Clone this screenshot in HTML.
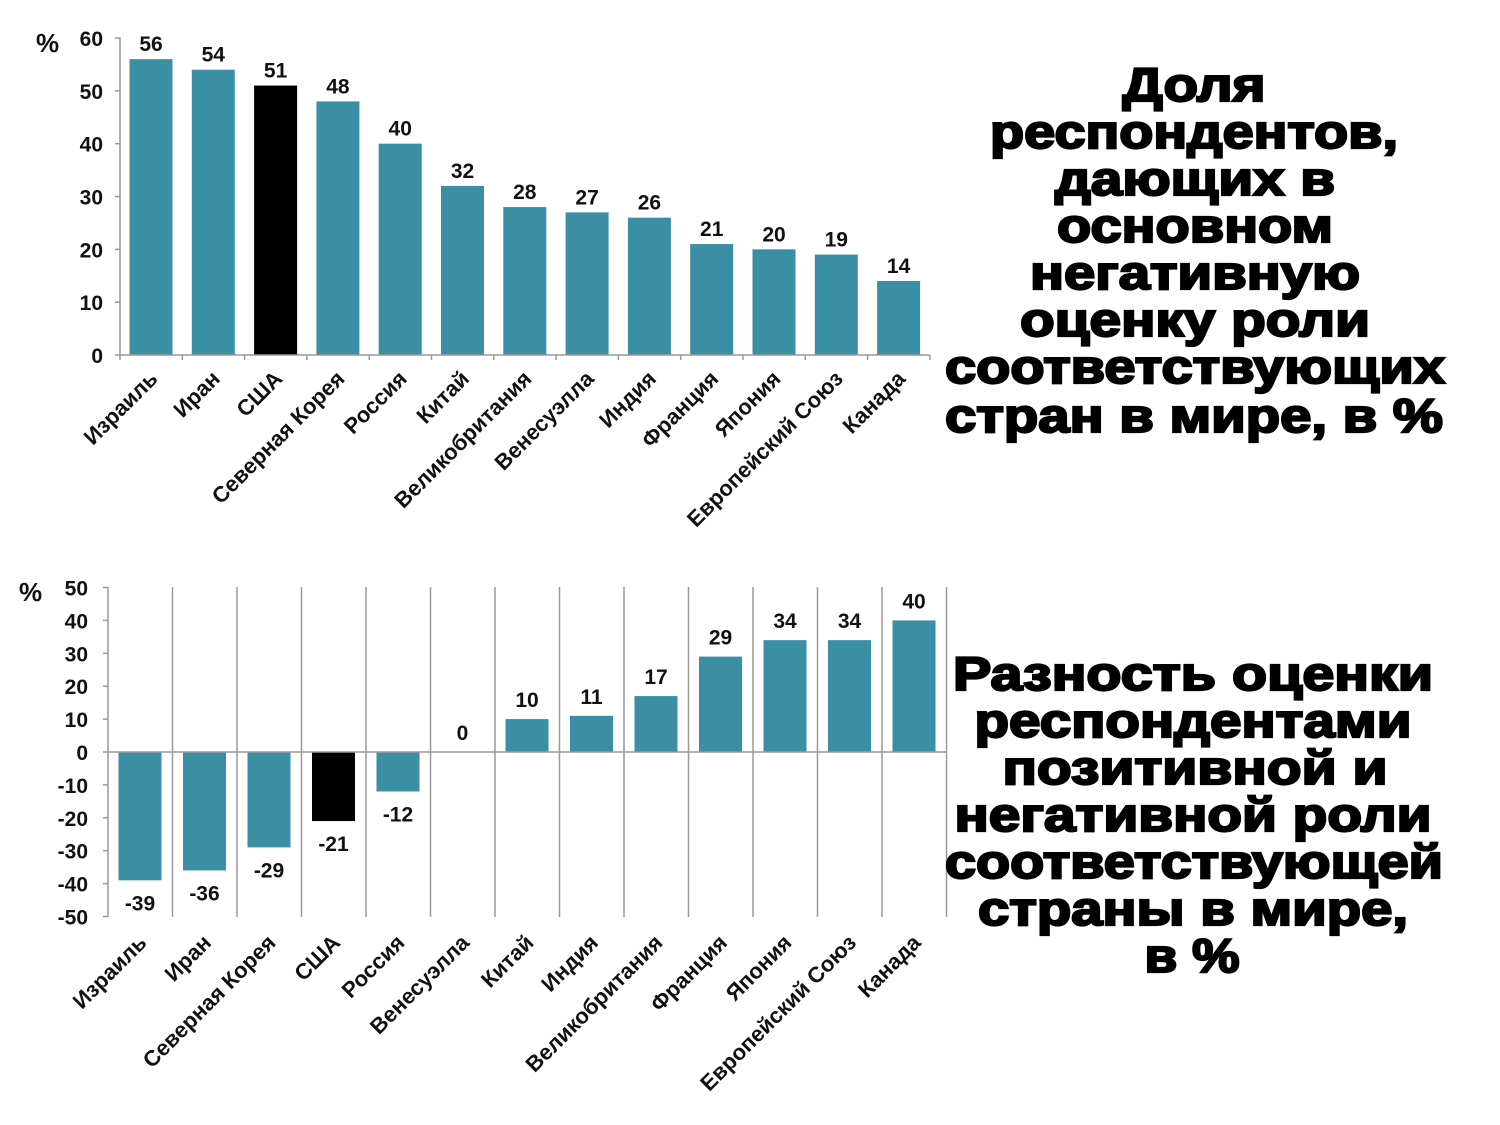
<!DOCTYPE html>
<html><head><meta charset="utf-8"><style>
html,body{margin:0;padding:0;background:#fff;}
svg{display:block;}
.t{font-family:"Liberation Sans",Arial,sans-serif;font-weight:bold;fill:#111;}
.h{font-family:"Liberation Sans",Arial,sans-serif;font-weight:bold;fill:#000;stroke:#000;stroke-width:2.2;font-size:47px;}
</style></head><body>
<svg width="1500" height="1125" viewBox="0 0 1500 1125" xmlns="http://www.w3.org/2000/svg">
<g id="top"></g>
<g id="bot"></g>
<g text-anchor="middle">
<text class="h" x="1194" y="101" textLength="143" lengthAdjust="spacingAndGlyphs">Доля</text>
<text class="h" x="1194" y="148" textLength="408" lengthAdjust="spacingAndGlyphs">респондентов,</text>
<text class="h" x="1195" y="195" textLength="280" lengthAdjust="spacingAndGlyphs">дающих в</text>
<text class="h" x="1195" y="242" textLength="276" lengthAdjust="spacingAndGlyphs">основном</text>
<text class="h" x="1195" y="289" textLength="330" lengthAdjust="spacingAndGlyphs">негативную</text>
<text class="h" x="1195" y="336" textLength="350" lengthAdjust="spacingAndGlyphs">оценку роли</text>
<text class="h" x="1195" y="383" textLength="500" lengthAdjust="spacingAndGlyphs">соответствующих</text>
<text class="h" x="1194" y="432" textLength="498" lengthAdjust="spacingAndGlyphs">стран в мире, в %</text>
<text class="h" x="1193" y="690" textLength="480" lengthAdjust="spacingAndGlyphs">Разность оценки</text>
<text class="h" x="1193" y="737" textLength="437" lengthAdjust="spacingAndGlyphs">респондентами</text>
<text class="h" x="1195" y="784" textLength="385" lengthAdjust="spacingAndGlyphs">позитивной и</text>
<text class="h" x="1193" y="831" textLength="477" lengthAdjust="spacingAndGlyphs">негативной роли</text>
<text class="h" x="1194" y="878" textLength="498" lengthAdjust="spacingAndGlyphs">соответствующей</text>
<text class="h" x="1193" y="925" textLength="430" lengthAdjust="spacingAndGlyphs">страны в мире,</text>
<text class="h" x="1192" y="972" textLength="95" lengthAdjust="spacingAndGlyphs">в %</text>
</g>
</svg>
<script>
var NS="http://www.w3.org/2000/svg";
function el(p,n,a,txt){var e=document.createElementNS(NS,n);for(var k in a)e.setAttribute(k,a[k]);if(txt!==undefined)e.textContent=txt;p.appendChild(e);return e;}
var teal="#3a8fa5";
var g=document.getElementById("top");
var x0=120,y0=355,sc=317/60,sp=62.3;
var names=["Израиль","Иран","США","Северная Корея","Россия","Китай","Великобритания","Венесуэлла","Индия","Франция","Япония","Европейский Союз","Канада"];
var vals=[56,54,51,48,40,32,28,27,26,21,20,19,14];
el(g,"line",{x1:x0,y1:37,x2:x0,y2:y0,stroke:"#999","stroke-width":1.5});
for(var v=0;v<=60;v+=10){var y=y0-v*sc;el(g,"line",{x1:x0-5,y1:y,x2:x0,y2:y,stroke:"#999","stroke-width":1.5});
el(g,"text",{class:"t",x:x0-17,y:y+8,"text-anchor":"end","font-size":"21"},v);}
el(g,"text",{class:"t",x:36,y:52,"font-size":"26"},"%");
for(var i=0;i<13;i++){var cx=x0+31+sp*i,h=vals[i]*sc;
el(g,"rect",{x:cx-21.5,y:y0-h,width:43,height:h,fill:i==2?"#000":teal});
el(g,"text",{class:"t",x:cx,y:y0-h-8,"text-anchor":"middle","font-size":"21"},vals[i]);
el(g,"text",{class:"t","font-size":"22","text-anchor":"end",transform:"translate("+(cx+8)+",380) rotate(-45)"},names[i]);}
el(g,"line",{x1:x0,y1:y0,x2:930,y2:y0,stroke:"#999","stroke-width":1.5});
for(var i=0;i<=13;i++){var tx=x0+sp*i;el(g,"line",{x1:tx,y1:y0,x2:tx,y2:y0+5,stroke:"#999","stroke-width":1.5});}
var b=document.getElementById("bot");
var bx=108,bz=752,bs=3.29,bp=64.5;
var n2=["Израиль","Иран","Северная Корея","США","Россия","Венесуэлла","Китай","Индия","Великобритания","Франция","Япония","Европейский Союз","Канада"];
var v2=[-39,-36,-29,-21,-12,0,10,11,17,29,34,34,40];
el(b,"line",{x1:bx,y1:587,x2:bx,y2:917,stroke:"#999","stroke-width":1.5});
for(var i=1;i<=13;i++){var gx=bx+bp*i;el(b,"line",{x1:gx,y1:587,x2:gx,y2:917,stroke:"#999","stroke-width":1.5});}
for(var v=-50;v<=50;v+=10){var y=bz-v*bs;el(b,"line",{x1:bx-5,y1:y,x2:bx,y2:y,stroke:"#999","stroke-width":1.5});
el(b,"text",{class:"t",x:bx-20,y:y+8,"text-anchor":"end","font-size":"21"},v);}
el(b,"text",{class:"t",x:19,y:601,"font-size":"26"},"%");
for(var i=0;i<13;i++){var cx=bx+32+bp*i,v=v2[i],h=Math.abs(v)*bs;
if(v>0)el(b,"rect",{x:cx-21.5,y:bz-h,width:43,height:h,fill:teal});
else if(v<0)el(b,"rect",{x:cx-21.5,y:bz,width:43,height:h,fill:i==3?"#000":teal});
var ly=v>=0?bz-h-12:bz+h+30;
el(b,"text",{class:"t",x:cx,y:ly,"text-anchor":"middle","font-size":"21"},v);
el(b,"text",{class:"t","font-size":"22","text-anchor":"end",transform:"translate("+(cx+8)+",944) rotate(-45)"},n2[i]);}
el(b,"line",{x1:bx,y1:bz,x2:946,y2:bz,stroke:"#999","stroke-width":1.5});
</script>
</body></html>
